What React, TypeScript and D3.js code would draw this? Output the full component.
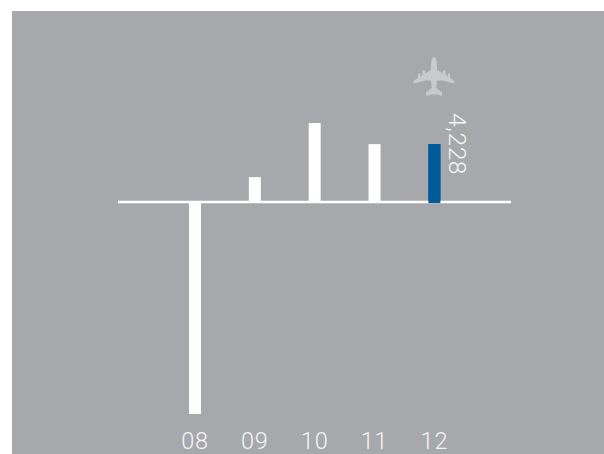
import React from "react";
import * as d3 from "d3";

const years = ["08", "09", "10", "11", "12"];
const values = [-15470, 1820, 5770, 4228, 4228];
const highlighted = "12";
const labelValue = 4228;

const WIDTH = 604;
const HEIGHT = 454;

const x = d3.scalePoint<string>().domain(years).range([195, 434.4]);
const y = d3.scaleLinear().domain([-15470, 5770]).range([414, 123]);
const BAR = 12;
const FONT = "Roboto, 'Liberation Sans', sans-serif";

const planePath =
  "M0,-20 C1.8,-20 3,-16 3,-11 L3,-7 L9,-3.5 L9,-6.5 L11.5,-6.5 L11.5,-2 L14,-0.5 L14,-3.5 L16,-3.5 L16,0.8 L20.5,4 L20.5,6.5 L8,3.5 L3,3.5 L2.2,11 L8,15.5 L8,19 L1,17 L0,20 L-1,17 L-8,19 L-8,15.5 L-2.2,11 L-3,3.5 L-8,3.5 L-20.5,6.5 L-20.5,4 L-16,0.8 L-16,-3.5 L-14,-3.5 L-14,-0.5 L-11.5,-2 L-11.5,-6.5 L-9,-6.5 L-9,-3.5 L-3,-7 L-3,-11 C-3,-16 -1.8,-20 0,-20 Z";

export default function App() {
  const y0 = y(0);
  return (
    <svg
      width={WIDTH}
      height={HEIGHT}
      style={{ position: "absolute", left: 0, top: 0, background: "#fff" }}
    >
      <rect x={12} y={11} width={WIDTH - 12} height={HEIGHT - 11} fill="#a7a8ab" />
      {years.map((yr, i) => {
        const v = values[i];
        return (
          <rect
            key={yr}
            x={x(yr)! - BAR / 2}
            y={Math.min(y(v), y0)}
            width={BAR}
            height={Math.abs(y(v) - y0)}
            fill={yr === highlighted ? "#005b9a" : "#ffffff"}
          />
        );
      })}
      <line x1={118} x2={511} y1={y0} y2={y0} stroke="#fff" strokeWidth={2.6} />
      <rect
        x={x(highlighted)! - BAR / 2}
        y={y(labelValue)}
        width={BAR}
        height={y0 - y(labelValue) + 1}
        fill="#005b9a"
      />
      {years.map((yr) => (
        <text
          key={yr}
          x={x(yr)}
          y={449}
          textAnchor="middle"
          fontFamily={FONT}
          fontWeight={300}
          fontSize={23.5}
          letterSpacing={0.8}
          fill="#f4f4f5"
        >
          {yr}
        </text>
      ))}
      <text
        transform={`translate(449,113) rotate(90)`}
        fontFamily={FONT}
        fontWeight={300}
        fontSize={24.5}
        letterSpacing={0.6}
        fill="#f4f4f5"
      >
        {d3.format(",")(labelValue)}
      </text>
      <path d={planePath} transform="translate(434,77)" fill="#c9cacc" />
    </svg>
  );
}
